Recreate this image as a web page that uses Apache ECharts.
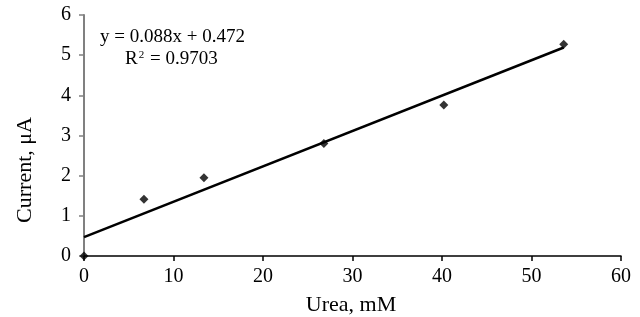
<!DOCTYPE html>
<html>
<head>
<meta charset="utf-8">
<script src="https://cdn.jsdelivr.net/npm/echarts@6/dist/echarts.min.js"></script>
<style>
  html, body { margin: 0; padding: 0; background: #fff; }
  #chart { width: 640px; height: 317px; }
</style>
</head>
<body>
<div id="chart"></div>
<script>
// measured points (urea mM, current uA)
var ureaVals = [0, 6.7, 13.4, 26.8, 40.2, 53.6];
var currentVals = [0, 1.41, 1.95, 2.8, 3.76, 5.27];
// linear trend endpoints
var trendX = [0, 53.6];
var trendY = [0.472, 5.19];

var xTicks = [0, 10, 20, 30, 40, 50, 60];
var yTicks = [0, 1, 2, 3, 4, 5, 6];

var chart = echarts.init(document.getElementById('chart'));

var serif = 'Liberation Serif';

var option = {
  animation: false,
  grid: {
    left: 84,
    right: 19,
    top: 15,
    bottom: 61
  },
  xAxis: {
    type: 'value',
    min: xTicks[0],
    max: xTicks[xTicks.length - 1],
    interval: 10,
    splitLine: { show: false },
    axisLine: { onZero: false, lineStyle: { color: '#000', width: 1.5 } },
    axisTick: { show: true, length: 5, lineStyle: { color: '#000', width: 1.5 } },
    axisLabel: { color: '#000', fontFamily: serif, fontSize: 20, margin: 11 }
  },
  yAxis: {
    type: 'value',
    min: yTicks[0],
    max: yTicks[yTicks.length - 1],
    interval: 1,
    splitLine: { show: false },
    axisLine: { show: true, lineStyle: { color: '#808080', width: 2 } },
    axisTick: { show: true, length: 5, lineStyle: { color: '#808080', width: 1.5 } },
    axisLabel: { color: '#000', fontFamily: serif, fontSize: 20, margin: 13 }
  },
  graphic: [
    {
      type: 'text',
      x: 100,
      y: 37,
      style: { text: 'y = 0.088x + 0.472', font: '19px "Liberation Serif"', fill: '#000', verticalAlign: 'middle' }
    },
    {
      type: 'text',
      x: 125,
      y: 59,
      style: {
        text: 'R{sup|2} = 0.9703',
        font: '19px "Liberation Serif"',
        fill: '#000',
        verticalAlign: 'middle',
        rich: { sup: { fontSize: 11, fontFamily: serif, verticalAlign: 'top', padding: [0, 1, 7, 1] } }
      }
    },
    {
      type: 'text',
      x: 351,
      y: 305,
      style: { text: 'Urea, mM', font: '22px "Liberation Serif"', fill: '#000', align: 'center', verticalAlign: 'middle' }
    },
    {
      type: 'text',
      x: 25,
      y: 170,
      rotation: Math.PI / 2,
      style: { text: 'Current, μA', font: '22px "Liberation Serif"', fill: '#000', align: 'center', verticalAlign: 'middle' }
    }
  ],
  series: [
    {
      name: 'trend',
      type: 'line',
      data: trendX.map(function (x, i) { return [x, trendY[i]]; }),
      showSymbol: false,
      lineStyle: { color: '#000', width: 2.5 },
      z: 3
    },
    {
      name: 'data',
      type: 'scatter',
      data: ureaVals.map(function (x, i) { return [x, currentVals[i]]; }),
      symbol: 'diamond',
      symbolSize: 9,
      itemStyle: { color: '#000' },
      clip: false,
      z: 4
    }
  ]
};

chart.setOption(option);
</script>
</body>
</html>
